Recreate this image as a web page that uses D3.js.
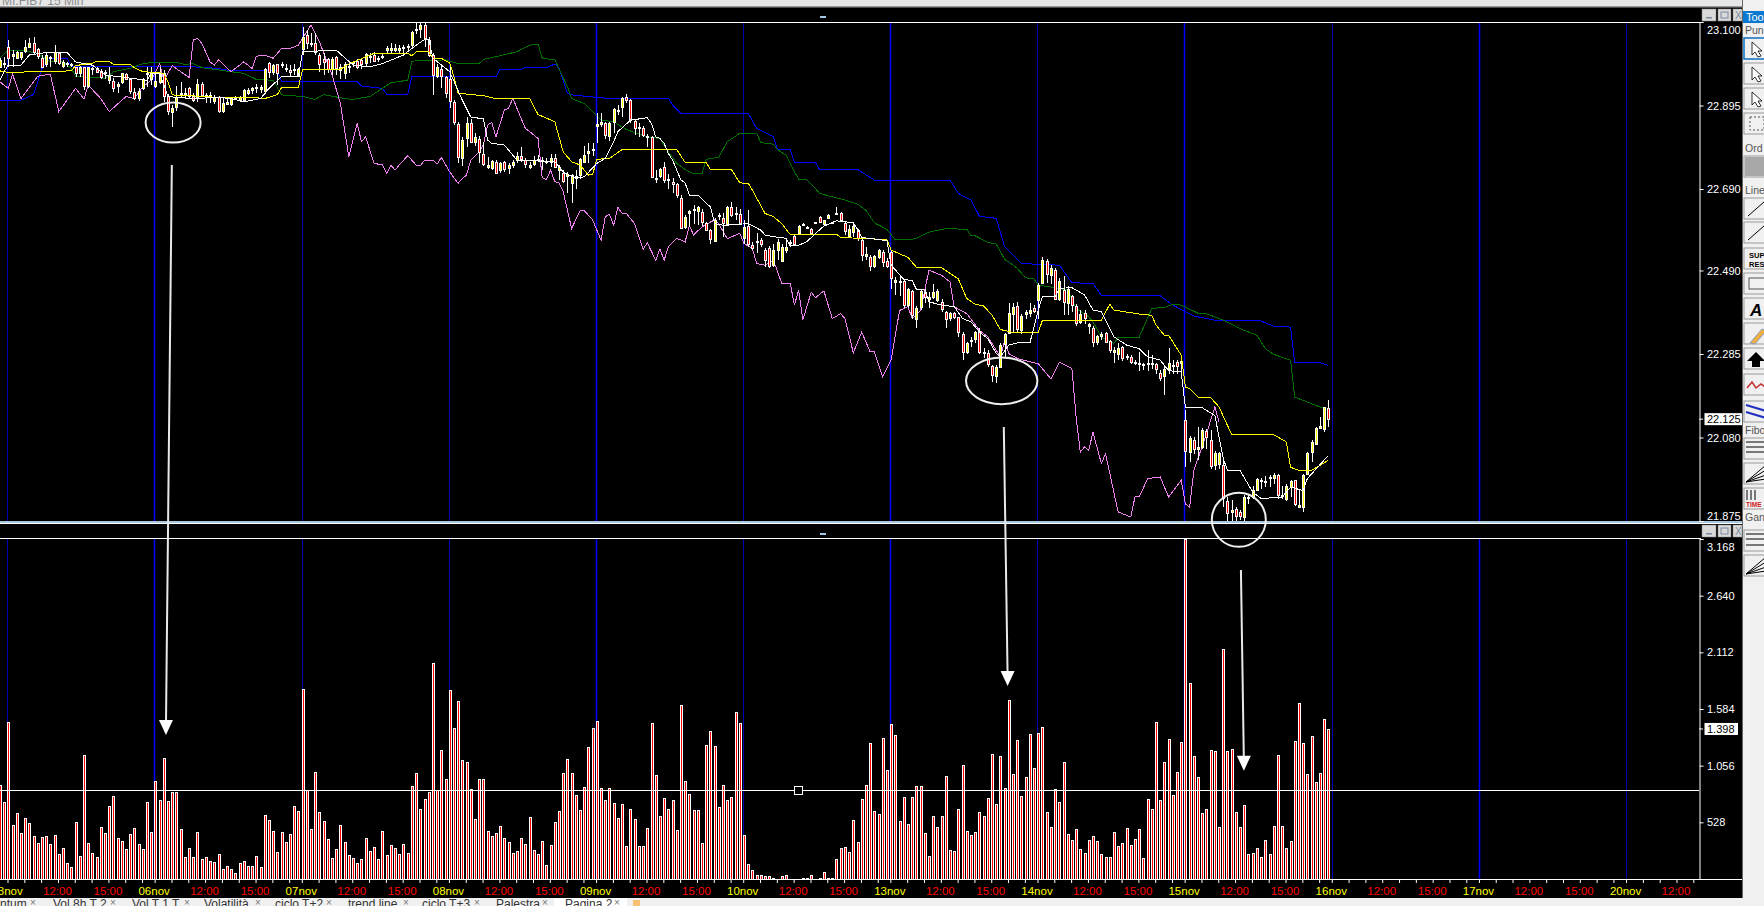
<!DOCTYPE html>
<html><head><meta charset="utf-8">
<script src="https://cdn.jsdelivr.net/npm/d3@7/dist/d3.min.js"></script>
<style>html,body{margin:0;background:#000;overflow:hidden}svg{display:block}text{font-family:"Liberation Sans",Arial,sans-serif}</style>
</head><body><svg id="c" width="1764" height="906"></svg>
<script>
// ---- time axis ----
const barsPerDay = 35, firstDaySlot = 2;
const dayLabels = ["03nov","06nov","07nov","08nov","09nov","10nov","13nov","14nov","15nov","16nov","17nov","20nov"];
const hourLabels = {12:"12:00",24:"15:00"};
const lastSlot = 403, slotsShown = 404;

// ---- axis ticks ----
const priceTicks = [23100,22895,22690,22490,22285,22080,21875];
const volumeTicks = [528,1056,1584,2112,2640,3168];
const lastPrice = 22125, lastVolume = 1398, volumeLevel = 825, levelHandleSlot = 190;

// ---- volume per 15 min bar ----
const volumes = [879,721,1466,506,618,432,571,525,404,339,394,404,329,413,236,292,152,115,534,217,
1159,339,245,208,488,432,683,777,385,357,283,422,478,329,283,721,441,916,
739,1131,730,814,814,469,208,292,208,441,189,208,171,162,236,96,124,96,59,152,
171,124,124,217,115,599,553,450,255,441,348,422,683,637,1773,832,469,1000,627,544,
376,199,283,506,348,227,199,152,189,385,264,301,189,450,227,320,292,236,329,245,
870,991,655,749,814,2012,832,1205,935,1764,1410,1662,1112,1093,842,562,935,935,450,404,
432,497,385,348,245,264,385,329,581,273,236,357,134,320,534,637,991,1121,991,786,
646,860,1233,1410,1475,851,739,851,711,571,702,311,655,562,311,311,478,1457,972,590,
758,655,739,460,1624,916,795,646,646,339,1252,1382,1242,674,879,739,767,1559,1457,413,
143,87,40,40,31,31,12,3,31,40,3,3,3,12,12,40,3,12,68,6,
6,189,292,301,255,553,348,749,879,1270,637,609,1317,1019,1447,1345,544,767,516,767,
870,870,432,217,590,488,590,963,273,264,655,1065,450,413,441,627,590,758,1168,702,
1149,851,1671,981,1298,776,954,1354,1037,1364,1419,627,488,842,721,1093,422,366,469,283,
245,366,404,357,236,208,208,441,311,339,478,320,376,469,199,749,655,1466,739,1093,
1308,786,1000,1280,3168,1829,1149,954,618,655,1205,1196,488,2146,1196,1214,627,488,693,236,
245,292,208,366,236,497,1159,497,292,357,1289,1643,1270,981,1336,907,991,1494,1398];

// ---- candles: open, high, low, close ----
const candles = [[22990,23011,22986,23007],[22997,23015,22986,23000],[23038,23057,22989,23011],[23017,23031,22990,23021],[23013,23030,23011,23027],[23013,23027,23007,23026],[23027,23056,23023,23038],[23038,23060,23035,23048],[23049,23062,23019,23027],[23033,23035,23008,23015],
[23011,23019,22988,22990],[22998,23023,22990,23019],[23012,23017,22990,23014],[23003,23044,22998,23026],[23023,23026,22994,22998],[22994,23007,22986,23003],[22997,23003,22990,23000],[22994,23000,22990,22997],[22989,22990,22966,22974],[22974,22992,22966,22989],
[22989,22990,22933,22943],[22943,22990,22937,22989],[22985,22990,22970,22988],[22986,22990,22974,22976],[22980,22984,22959,22966],[22975,22982,22959,22978],[22956,22990,22949,22967],[22955,22962,22929,22937],[22943,22953,22926,22948],[22951,22976,22949,22974],
[22972,22976,22958,22959],[22959,22962,22923,22929],[22929,22937,22908,22915],[22913,22937,22907,22931],[22937,22962,22933,22959],[22971,22989,22941,22974],[22962,22990,22945,22978],[22943,22978,22937,22955],[22953,22990,22949,22976],[22974,22982,22904,22918],
[22918,22923,22872,22882],[22880,22896,22843,22890],[22890,22943,22882,22915],[22922,22953,22913,22925],[22922,22937,22913,22925],[22937,22941,22913,22918],[22918,22925,22904,22908],[22918,22959,22904,22949],[22949,22953,22917,22923],[22919,22926,22900,22922],
[22915,22929,22900,22921],[22904,22921,22899,22915],[22915,22918,22876,22880],[22880,22917,22876,22900],[22899,22915,22896,22903],[22899,22915,22894,22913],[22911,22918,22908,22914],[22908,22918,22904,22915],[22908,22935,22904,22933],[22926,22937,22921,22933],
[22935,22941,22923,22939],[22937,22948,22925,22940],[22937,22945,22925,22941],[22929,22986,22923,22984],[23000,23003,22962,22978],[22978,22998,22970,22994],[22997,22998,22945,22974],[22993,23003,22986,22996],[22985,22998,22978,22988],[22982,22994,22966,22976],
[22982,22998,22970,22985],[22967,22986,22966,22984],[23033,23087,23019,23062],[23068,23080,23033,23048],[23046,23074,23038,23049],[23048,23072,23019,23025],[23019,23023,22978,22998],[23008,23023,22970,23000],[23008,23011,22974,22984],[22984,23015,22970,23008],
[23013,23017,22970,22986],[22982,22998,22959,22990],[22976,23003,22959,22997],[22989,22998,22974,22992],[23000,23005,22990,23003],[23005,23008,22984,22990],[23007,23008,22984,22998],[23000,23025,22992,23021],[23013,23023,23000,23016],[23019,23027,23003,23005],
[23011,23017,23003,23008],[23013,23023,23008,23016],[23033,23041,23025,23037],[23033,23048,23025,23037],[23033,23046,23027,23037],[23033,23044,23023,23037],[23036,23043,23025,23039],[23038,23046,23030,23041],[23044,23079,23039,23076],[23081,23097,23071,23084],
[23082,23097,23060,23093],[23093,23097,23039,23060],[23057,23062,23015,23019],[23019,23023,22921,22970],[22967,22998,22962,22990],[22984,22994,22937,22966],[22964,22967,22913,22925],[22959,22990,22888,22904],[22904,22908,22847,22855],[22849,22855,22753,22769],
[22765,22817,22746,22810],[22817,22868,22794,22853],[22853,22863,22804,22806],[22806,22828,22795,22818],[22814,22820,22753,22781],[22777,22806,22746,22753],[22744,22768,22738,22748],[22741,22761,22736,22759],[22757,22761,22728,22730],[22735,22757,22730,22753],
[22757,22759,22732,22741],[22741,22754,22728,22749],[22749,22761,22741,22757],[22761,22781,22754,22771],[22771,22794,22757,22763],[22761,22765,22741,22751],[22746,22757,22738,22750],[22751,22771,22746,22761],[22761,22773,22757,22764],[22759,22768,22736,22762],
[22755,22765,22751,22758],[22754,22777,22745,22765],[22767,22777,22743,22745],[22738,22749,22712,22745],[22730,22736,22704,22710],[22722,22732,22679,22726],[22705,22727,22655,22724],[22719,22736,22691,22722],[22724,22765,22714,22763],[22757,22795,22753,22773],
[22777,22802,22753,22783],[22784,22804,22771,22787],[22844,22876,22802,22849],[22849,22876,22843,22854],[22851,22855,22812,22822],[22820,22855,22809,22851],[22853,22890,22828,22886],[22882,22896,22872,22885],[22890,22917,22868,22913],[22915,22923,22900,22908],
[22908,22910,22851,22861],[22858,22859,22822,22841],[22840,22851,22818,22843],[22839,22845,22817,22822],[22817,22825,22794,22820],[22818,22820,22718,22720],[22715,22736,22704,22718],[22720,22741,22716,22738],[22743,22757,22704,22710],[22712,22727,22691,22715],
[22708,22718,22679,22702],[22702,22705,22667,22675],[22669,22675,22591,22596],[22597,22626,22591,22622],[22632,22638,22597,22636],[22637,22650,22605,22640],[22634,22648,22601,22645],[22634,22640,22599,22609],[22607,22609,22587,22591],[22589,22593,22555,22566],
[22564,22618,22560,22615],[22622,22630,22614,22625],[22620,22630,22573,22607],[22601,22648,22599,22646],[22645,22659,22622,22626],[22628,22645,22614,22631],[22628,22642,22601,22607],[22571,22614,22556,22597],[22599,22638,22548,22555],[22552,22560,22540,22544],
[22559,22581,22532,22562],[22564,22569,22548,22555],[22540,22544,22499,22515],[22544,22550,22497,22499],[22503,22556,22499,22540],[22540,22568,22515,22560],[22514,22556,22511,22548],[22540,22568,22532,22548],[22558,22566,22552,22561],[22574,22577,22550,22555],
[22581,22601,22579,22599],[22602,22607,22600,22605],[22595,22600,22591,22597],[22593,22594,22579,22583],[22607,22608,22606,22608],[22622,22624,22607,22610],[22604,22615,22602,22614],[22619,22629,22617,22627],[22608,22610,22607,22609],[22628,22645,22627,22630],
[22632,22634,22612,22614],[22607,22610,22577,22588],[22577,22602,22571,22593],[22585,22606,22573,22599],[22589,22591,22563,22569],[22566,22569,22514,22528],[22526,22548,22516,22530],[22524,22528,22489,22501],[22501,22528,22495,22525],[22522,22542,22517,22540],
[22536,22540,22499,22511],[22514,22520,22495,22501],[22536,22540,22444,22471],[22462,22473,22430,22466],[22461,22473,22427,22464],[22465,22466,22397,22405],[22405,22448,22399,22444],[22440,22442,22370,22380],[22372,22403,22350,22399],[22401,22442,22393,22440],
[22438,22444,22409,22425],[22421,22438,22397,22425],[22425,22458,22421,22438],[22417,22444,22413,22440],[22413,22421,22389,22397],[22389,22391,22348,22372],[22372,22389,22367,22385],[22385,22389,22370,22376],[22375,22376,22327,22337],[22335,22339,22271,22290],
[22290,22315,22285,22312],[22316,22327,22303,22319],[22321,22342,22311,22339],[22342,22348,22286,22290],[22286,22299,22274,22289],[22288,22294,22253,22262],[22255,22258,22217,22233],[22231,22258,22214,22253],[22255,22311,22253,22308],[22311,22337,22278,22335],
[22337,22409,22335,22385],[22385,22409,22339,22401],[22404,22413,22339,22348],[22345,22383,22335,22379],[22383,22393,22370,22387],[22386,22409,22376,22394],[22399,22405,22385,22391],[22417,22460,22372,22454],[22460,22522,22458,22516],[22514,22517,22460,22481],
[22479,22503,22458,22495],[22491,22495,22419,22421],[22421,22471,22416,22465],[22442,22476,22380,22413],[22409,22452,22380,22444],[22427,22430,22389,22405],[22404,22407,22353,22362],[22364,22393,22358,22383],[22385,22393,22358,22372],[22354,22362,22334,22358],
[22350,22353,22303,22315],[22315,22331,22307,22329],[22327,22339,22319,22333],[22337,22339,22311,22315],[22317,22319,22288,22294],[22292,22301,22263,22296],[22285,22312,22271,22299],[22303,22304,22268,22276],[22278,22286,22270,22281],[22278,22282,22260,22266],
[22262,22270,22258,22265],[22259,22290,22244,22262],[22258,22263,22245,22261],[22259,22294,22244,22262],[22260,22282,22247,22263],[22260,22263,22237,22247],[22239,22245,22219,22227],[22233,22255,22184,22249],[22249,22299,22237,22263],[22255,22270,22235,22258],
[22266,22271,22237,22255],[22262,22271,22237,22268],[22124,22147,22007,22048],[22044,22083,22020,22079],[22075,22081,22040,22052],[22052,22106,22024,22057],[22057,22104,22052,22098],[22096,22102,22052,22081],[22075,22098,22003,22012],[22012,22048,21999,22042],
[22016,22044,22003,22042],[22012,22028,21909,21930],[21924,21934,21876,21894],[21899,21926,21875,21903],[21905,21909,21876,21889],[21897,21903,21878,21886],[21886,21938,21876,21934],[21932,21942,21917,21935],[21934,21962,21930,21950],[21952,21981,21950,21979],
[21973,21981,21954,21976],[21969,21985,21958,21972],[21979,21989,21958,21982],[21979,21993,21966,21987],[21987,21991,21930,21938],[21936,21962,21930,21939],[21930,21966,21924,21962],[21958,21975,21934,21973],[21975,21976,21911,21917],[21911,21954,21908,21915],
[21909,21991,21897,21987],[21991,22044,21987,22042],[22044,22073,22020,22069],[22065,22106,22061,22104],[22105,22130,22102,22109],[22102,22156,22093,22155],[22153,22173,22106,22126]];

// ---- indicator lines: [bar, price] ----
const pinkLine = [[0,22953],[2,22937],[3,22972],[5,22912],[9,22967],[12,22972],[14,22880],[18,22937],[20,22911],[21,22945],[24,22912],[26,22880],[30,22917],[32,22912],[34,22941],[36,22957],[38,22997],[39,22957],[41,22993],[43,22978],[45,22964],[46,23056],[47,23060],[48,23048],[50,23002],[51,22994],[52,23007],[55,22978],[58,23002],[60,22986],[61,23016],[63,23019],[65,23011],[67,23035],[69,23035],[71,23043],[74,23093],[76,23052],[79,22970],[81,22900],[83,22769],[85,22851],[86,22806],[87,22818],[89,22753],[91,22749],[92,22728],[93,22749],[94,22736],
[95,22749],[97,22772],[99,22749],[100,22747],[101,22761],[103,22761],[104,22751],[105,22768],[107,22732],[109,22704],[110,22716],[111,22724],[112,22761],[114,22781],[115,22798],[116,22847],[117,22853],[118,22818],[120,22884],[121,22888],[122,22913],[124,22863],[125,22839],[126,22831],[128,22814],[129,22718],[130,22713],[131,22736],[132,22708],[133,22705],[134,22683],[136,22593],[138,22637],[139,22637],[141,22614],[143,22564],[144,22622],[145,22628],[146,22601],[147,22645],[148,22630],[149,22630],[151,22605],[152,22573],[153,22542],[154,22558],[156,22515],[157,22543],[158,22515],[159,22548],[161,22569],[163,22560],[164,22601],[165,22577],[167,22597],[169,22609],[170,22614],
[171,22605],[173,22568],[176,22581],[177,22556],[179,22544],[180,22507],[182,22503],[184,22515],[186,22458],[188,22458],[189,22405],[190,22442],[191,22369],[193,22437],[194,22423],[196,22440],[198,22372],[200,22384],[201,22372],[203,22288],[205,22339],[207,22290],[208,22290],[210,22229],[212,22270],[214,22392],[216,22401],[217,22372],[219,22392],[221,22491],[224,22478],[226,22462],[227,22401],[230,22384],[233,22343],[235,22327],[238,22278],[239,22319],[240,22286],[242,22274],[247,22261],[250,22224],[252,22265],[255,22249],[256,22130],[257,22044],[258,22057],[259,22048],[260,22093],[262,22016],[263,22040],[266,21897],[269,21885],[270,21934],[271,21934],[273,21979],[276,21983],[278,21934],[281,21975],[282,21917],[283,21909],[284,21999],[287,22089],[289,22155],[290,22118]];

const whiteLine = [[0,22957],[1,22978],[2,22994],[5,22994],[7,23019],[11,23025],[16,23025],[18,23002],[22,22994],[25,22970],[31,22962],[35,22957],[36,22974],[38,22974],[40,22917],[42,22915],[46,22912],[52,22915],[55,22912],[58,22904],[62,22912],[64,22937],[67,22966],[71,22966],[72,23027],[80,23031],[84,22994],[88,22990],[91,22998],[96,23019],[99,23043],[101,23057],[102,23057],[103,23011],[107,22978],[110,22908],[112,22867],[115,22862],[116,22810],[117,22802],[120,22798],[122,22773],[123,22761],[132,22757],[134,22732],[137,22716],[139,22720],[142,22753],[144,22765],[146,22806],[147,22831],[150,22859],[154,22865],[155,22851],[156,22818],[157,22814],[158,22802],[159,22777],[160,22761],[162,22712],[163,22705],[164,22675],[166,22675],[169,22646],[170,22605],[172,22601],[178,22605],[181,22589],[182,22577],[184,22573],[187,22569],[188,22550],[190,22552],[192,22561],[194,22581],[196,22599],[199,22612],[203,22607],[204,22591],[205,22571],[209,22566],[211,22563],[212,22503],[215,22468],[217,22465],[218,22444],[220,22442],[221,22413],[224,22405],[227,22401],[229,22372],[231,22364],[233,22339],[235,22323],[237,22286],[238,22278],[240,22307],[242,22312],[245,22312],[247,22393],[248,22427],[251,22425],[252,22446],[255,22448],[258,22430],[260,22393],[262,22389],[265,22327],[268,22307],[271,22298],[273,22278],[276,22270],[278,22244],[281,22241],[282,22153],[286,22153],[289,22134],[291,22028],[292,21999],[295,21999],[298,21946],[300,21930],[305,21934],[307,21958],[310,21950],[311,21979],[316,22036]];

const yellowLine = [[0,22980],[2,22976],[8,22978],[17,22980],[18,22993],[22,22999],[23,23003],[26,23003],[27,22996],[31,22996],[32,22988],[34,22978],[37,22976],[39,22974],[40,22953],[41,22921],[47,22918],[52,22915],[61,22914],[63,22912],[66,22922],[67,22939],[71,22939],[72,22984],[81,22984],[83,22997],[89,23023],[97,23023],[98,23017],[99,23027],[102,23027],[103,23011],[105,23011],[107,22999],[108,22966],[109,22925],[115,22919],[118,22912],[126,22912],[128,22873],[132,22855],[134,22781],[136,22757],[138,22749],[140,22724],[141,22726],[142,22763],[145,22765],[148,22787],[161,22787],[163,22755],[168,22755],[169,22738],[174,22738],[176,22705],[178,22704],[179,22687],[182,22630],[184,22622],[186,22605],[188,22578],[199,22579],[200,22571],[211,22566],[212,22540],[216,22522],[218,22498],[224,22497],[228,22469],[230,22421],[232,22407],[234,22403],[236,22380],[238,22345],[241,22338],[247,22338],[248,22368],[262,22368],[264,22407],[265,22393],[271,22383],[274,22380],[275,22356],[277,22331],[278,22331],[281,22282],[282,22204],[283,22200],[285,22179],[288,22178],[290,22155],[293,22087],[303,22087],[306,22069],[307,22007],[309,21999],[312,21999],[316,22024]];

const greenLine = [[0,23011],[2,23031],[5,23031],[9,23023],[12,23002],[15,23002],[17,22986],[18,22967],[21,22964],[25,22962],[27,22978],[31,22986],[34,22998],[37,23001],[42,23001],[44,22996],[46,22998],[48,22988],[55,22978],[58,22974],[61,22959],[65,22957],[67,22921],[72,22917],[75,22910],[77,22922],[82,22912],[84,22910],[88,22917],[91,22937],[93,22951],[97,22957],[98,23004],[106,23007],[109,22998],[114,22998],[115,23008],[118,23015],[123,23027],[126,23043],[128,23046],[129,23011],[132,23007],[135,22941],[136,22912],[139,22900],[143,22859],[146,22855],[149,22836],[154,22818],[157,22814],[159,22781],[161,22753],[163,22738],[165,22727],[167,22727],[168,22763],[171,22768],[173,22806],[176,22827],[180,22827],[181,22804],[184,22800],[185,22786],[187,22773],[189,22732],[190,22714],[192,22712],[194,22691],[195,22679],[201,22663],[204,22653],[206,22638],[208,22607],[211,22591],[213,22565],[216,22565],[218,22569],[221,22584],[225,22593],[230,22591],[231,22575],[232,22575],[235,22559],[237,22555],[239,22517],[240,22511],[242,22495],[244,22472],[246,22469],[247,22454],[251,22448],[254,22442],[256,22397],[259,22376],[260,22364],[262,22326],[265,22311],[266,22326],[271,22326],[274,22397],[277,22399],[279,22407],[281,22405],[285,22385],[287,22384],[291,22368],[295,22347],[299,22331],[301,22298],[303,22284],[307,22270],[308,22179],[312,22163],[316,22147]];

const blueLine = [[0,22908],[5,22908],[8,22922],[10,22986],[12,23011],[16,23011],[17,22990],[31,22990],[46,22990],[52,22986],[55,22980],[66,22980],[67,22955],[85,22953],[86,22943],[91,22937],[92,22923],[97,22922],[98,22966],[118,22966],[119,22984],[124,22984],[125,22988],[130,22988],[132,22997],[133,22986],[135,22925],[136,22921],[144,22913],[159,22913],[160,22896],[162,22876],[178,22876],[180,22839],[184,22818],[185,22787],[188,22786],[189,22755],[194,22755],[195,22738],[204,22738],[208,22712],[226,22712],[228,22679],[231,22663],[233,22623],[237,22618],[239,22548],[243,22507],[252,22503],[255,22460],[260,22458],[262,22429],[276,22428],[279,22405],[284,22378],[290,22366],[300,22366],[303,22353],[307,22351],[308,22264],[314,22264],[316,22257]];

// ---- annotations drawn on top, anchored to the chart's own scales ----
const circleNotes = [{slot:41.2,price:22853,rx:27.5,ry:20},{slot:238.3,price:22219,rx:35.7,ry:23.3},{slot:294.7,price:21878,rx:27,ry:27}];
const arrowNotes = [
 {fromSlot:40.9,fromPrice:22749,toSlot:39.5,toVolume:1342},
 {fromSlot:238.8,fromPrice:22106,toSlot:239.7,toVolume:1799},
 {fromSlot:295.2,fromVolume:2880,toSlot:295.9,toVolume:1009}];

const tabs = [{t:"ntum",x:0,c:33},{t:"Vol 8h T 2",x:53,c:113},{t:"Vol T 1 T",x:132,c:187},{t:"Volatilità",x:204,c:258},{t:"ciclo T+2",x:275,c:329},{t:"trend line",x:348,c:406},{t:"ciclo T+3",x:422,c:477},{t:"Palestra",x:496,c:545},{t:"Pagina 2",x:565,c:617}];

// ---- layout ----
const W=1764, plotR=1699, topY0=22, topY1=521, volY0=539, volY1=879, toolX=1742;
const svg=d3.select("#c");
const x=d3.scaleLinear().domain([0,barsPerDay]).range([-0.1,147.04]);
const yP=d3.scaleLinear().domain([21875,23100]).range([topY1,topY0]);
const yV=d3.scaleLinear().domain([0,3168]).range([volY1,volY0]);
const it=d3.formatLocale({decimal:",",thousands:".",grouping:[3],currency:["","€"]}).format(",d");
const snapX=i=>Math.round(x(i));
const snapY=v=>Math.round(v)+.5;

svg.append("rect").attr("width",W).attr("height",906).attr("fill","#000");
const defs=svg.append("defs");
defs.append("clipPath").attr("id","cpT").append("rect").attr("x",0).attr("y",topY0).attr("width",plotR).attr("height",topY1-topY0);
defs.append("clipPath").attr("id","cpV").append("rect").attr("x",0).attr("y",volY0).attr("width",plotR).attr("height",volY1-volY0);

// window chrome, top
svg.append("rect").attr("width",W).attr("height",6).attr("fill","#e6e6e6");
svg.append("rect").attr("y",6).attr("width",toolX).attr("height",1.5).attr("fill","#9a9a9a");
svg.append("text").attr("x",2).attr("y",5).attr("font-size",12).attr("fill","#8c8c8c").text("MI.FIB7 15 Min");

// day separators
const days=dayLabels.map((d,k)=>({label:d,slot:firstDaySlot+k*barsPerDay,k}));
const strong=new Set([1,4,6,8,10]);
[[topY0,topY1],[volY0,volY1]].forEach(([a,b])=>{
 svg.append("g").selectAll("line").data(days).join("line")
  .attr("x1",d=>snapX(d.slot)-.5).attr("x2",d=>snapX(d.slot)-.5).attr("y1",a).attr("y2",b)
  .attr("stroke",d=>strong.has(d.k)?"#0000ff":"#0000b4").attr("stroke-width",d=>strong.has(d.k)?1.5:1);
});

// price pane
const gT=svg.append("g").attr("clip-path","url(#cpT)");
const lineGen=d3.line().x(d=>x(d[0])).y(d=>yP(d[1]));
[[blueLine,"#0000ff"],[greenLine,"#007000"],[pinkLine,"#ee82ee"]].forEach(([s,c])=>
 gT.append("path").datum(s).attr("d",lineGen).attr("fill","none").attr("stroke",c).attr("stroke-width",1).attr("shape-rendering","crispEdges"));
const cg=gT.append("g").attr("shape-rendering","crispEdges").selectAll("g").data(candles).join("g");
cg.append("line").attr("x1",(d,i)=>snapX(i)+.5).attr("x2",(d,i)=>snapX(i)+.5).attr("y1",d=>yP(d[1])).attr("y2",d=>yP(d[2])).attr("stroke","#fff").attr("stroke-width",1);
cg.append("rect").attr("x",(d,i)=>snapX(i)-.5).attr("width",2)
 .attr("y",d=>snapY(yP(Math.max(d[0],d[3])))).attr("height",d=>Math.max(1,Math.round(Math.abs(yP(d[0])-yP(d[3])))))
 .attr("fill",d=>d[3]>=d[0]?"#ffff00":"#ff0000").attr("stroke","#fff").attr("stroke-width",1);
[[yellowLine,"#ffff00"],[whiteLine,"#ffffff"]].forEach(([s,c])=>
 gT.append("path").datum(s).attr("d",lineGen).attr("fill","none").attr("stroke",c).attr("stroke-width",1).attr("shape-rendering","crispEdges"));

// volume pane
const gV=svg.append("g").attr("clip-path","url(#cpV)").attr("shape-rendering","crispEdges");
gV.selectAll("rect").data(volumes).join("rect")
 .attr("x",(d,i)=>snapX(i)-.5).attr("width",2).attr("y",d=>snapY(yV(d))).attr("height",d=>Math.max(0,Math.round(yV(0)-yV(d))))
 .attr("fill","#ff0000").attr("stroke","#fff").attr("stroke-width",1);
svg.append("line").attr("x1",0).attr("x2",plotR).attr("y1",snapY(yV(volumeLevel))).attr("y2",snapY(yV(volumeLevel))).attr("stroke","#fff").attr("stroke-width",1);
svg.append("rect").attr("x",snapX(levelHandleSlot)-4.5).attr("y",snapY(yV(volumeLevel))-4).attr("width",8).attr("height",8).attr("fill","#000").attr("stroke","#fff").attr("stroke-width",1);

// pane frames
svg.append("line").attr("x1",0).attr("x2",1701).attr("y1",22.5).attr("y2",22.5).attr("stroke","#fff");
svg.append("rect").attr("y",521).attr("width",toolX).attr("height",2).attr("fill","#a9c6df");
svg.append("line").attr("x1",0).attr("x2",toolX).attr("y1",523.5).attr("y2",523.5).attr("stroke","#fff");
svg.append("line").attr("x1",0).attr("x2",1701).attr("y1",538.5).attr("y2",538.5).attr("stroke","#fff");
[17,534].forEach(y=>svg.append("rect").attr("x",820).attr("y",y-1).attr("width",6).attr("height",2).attr("fill","#9fc8e8"));
[9,525].forEach(y=>{
 [[1702,14],[1718,13],[1733,9]].forEach(([bx,bw])=>svg.append("rect").attr("x",bx).attr("y",y).attr("width",bw).attr("height",12).attr("fill","#d9d9d9").attr("stroke","#8a8a8a").attr("stroke-width",.5));
 svg.append("rect").attr("x",1706).attr("y",y+8).attr("width",6).attr("height",1.5).attr("fill","#7a8aa0");
 svg.append("rect").attr("x",1721).attr("y",y+3).attr("width",7).attr("height",6).attr("fill","none").attr("stroke","#7a8aa0");
 svg.append("text").attr("x",1735).attr("y",y+10).attr("font-size",10).attr("fill","#7a8aa0").text("X");
});

// y axes
function rightAxis(scale,ticks){
 const g=svg.append("g").attr("transform",`translate(${plotR+.5},0)`)
  .call(d3.axisRight(scale).tickValues(ticks).tickFormat(it).tickSize(4).tickPadding(3.5));
 g.select(".domain").attr("stroke","#fff");
 g.selectAll(".tick line").attr("stroke","#fff");
 g.selectAll("text").attr("fill","#fff").attr("font-size",11).attr("font-family","Liberation Sans");
 return g;
}
const aP=rightAxis(yP,priceTicks);
aP.selectAll(".tick text").filter(d=>d===23100).attr("dy","1.05em");
aP.selectAll(".tick text").filter(d=>d===21875).attr("dy","-0.13em");
const aV=rightAxis(yV,volumeTicks);
aV.selectAll(".tick text").filter(d=>d===3168).attr("dy","1.05em");

// last value tags
[[yP(lastPrice),it(lastPrice)],[yV(lastVolume),it(lastVolume)]].forEach(([y,t],k)=>{
 svg.append("line").attr("x1",plotR).attr("x2",plotR+4).attr("y1",y).attr("y2",y).attr("stroke","#fff");
 svg.append("rect").attr("x",1704.5).attr("y",y-6).attr("width",k?33.5:37.5).attr("height",12).attr("fill","#fff");
 svg.append("text").attr("x",1707).attr("y",y+4).attr("font-size",11).attr("fill","#000").text(t);
});

// time axis
const slots=d3.range(firstDaySlot,lastSlot+1).filter(s=>(s-firstDaySlot)%barsPerDay%4===0 && (s-firstDaySlot)%barsPerDay<=32);
function slotLabel(s){const r=(s-firstDaySlot)%barsPerDay,k=(s-firstDaySlot-r)/barsPerDay;
 return r===0?dayLabels[k]:(hourLabels[r]||"");}
const aX=svg.append("g").attr("transform",`translate(-0.8,${volY1})`)
 .call(d3.axisBottom(x).tickValues(slots).tickFormat(slotLabel).tickSize(4).tickPadding(3.5).tickSizeOuter(0));
aX.select(".domain").remove();
aX.selectAll(".tick line").attr("stroke","#fff");
aX.selectAll("text").attr("font-size",11.5).attr("font-family","Liberation Sans").attr("dx",-1)
 .attr("fill",s=>(s-firstDaySlot)%barsPerDay===0?"#ffff00":"#ff0000");
svg.append("line").attr("x1",0).attr("x2",toolX).attr("y1",volY1+.5).attr("y2",volY1+.5).attr("stroke","#fff");

// annotations
svg.append("g").selectAll("ellipse").data(circleNotes).join("ellipse")
 .attr("cx",d=>x(d.slot)).attr("cy",d=>yP(d.price)).attr("rx",d=>d.rx).attr("ry",d=>d.ry)
 .attr("fill","none").attr("stroke","#eeeeee").attr("stroke-width",2);
arrowNotes.forEach(a=>{
 const x0=x(a.fromSlot),y0=a.fromPrice!==undefined?yP(a.fromPrice):yV(a.fromVolume),x1=x(a.toSlot),y1=yV(a.toVolume);
 svg.append("line").attr("x1",x0).attr("y1",y0).attr("x2",x1).attr("y2",y1-10).attr("stroke","#e8e8e8").attr("stroke-width",2);
 svg.append("path").attr("d",`M${x1-7},${y1-15}L${x1+7},${y1-15}L${x1},${y1}Z`).attr("fill","#fff");
});

// bottom tabs
svg.append("rect").attr("y",898).attr("width",W).attr("height",8).attr("fill","#f0f0f0");
svg.append("rect").attr("x",554).attr("y",898).attr("width",73).attr("height",8).attr("fill","#fff");
tabs.forEach(tb=>{
 svg.append("text").attr("x",tb.x).attr("y",908).attr("font-size",12).attr("fill","#333").text(tb.t);
 svg.append("text").attr("x",tb.c).attr("y",906).attr("font-size",10).attr("fill","#777").attr("text-anchor","middle").text("×");
});
svg.append("rect").attr("x",633).attr("y",900).attr("width",7).attr("height",6).attr("fill","#f5c070");

// right toolbox
svg.append("rect").attr("x",toolX).attr("y",0).attr("width",W-toolX).attr("height",906).attr("fill","#f0f0f0");
svg.append("line").attr("x1",toolX+.5).attr("x2",toolX+.5).attr("y1",0).attr("y2",898).attr("stroke","#666");
svg.append("rect").attr("x",toolX+1).attr("y",11).attr("width",W-toolX).attr("height",12).attr("fill","#0a78d0");
svg.append("text").attr("x",toolX+4).attr("y",21).attr("font-size",11).attr("fill","#fff").text("Tool");
[["Pun",34],["Ord",152],["Line",194],["Fibo",434],["Gan",521]].forEach(([t,y])=>
 svg.append("text").attr("x",toolX+3).attr("y",y).attr("font-size",10.5).attr("fill","#555").text(t));
[38,63,88,113,156,198,222,248,273,298,323,348,374,401,438,463,488,530,555].forEach(y=>{
 svg.append("rect").attr("x",toolX+2).attr("y",y).attr("width",24).attr("height",21).attr("fill","#f0f0f0").attr("stroke",y===38?"#1070c0":"#999").attr("stroke-width",y===38?1.5:1);
});
[38,63,88].forEach(y=>svg.append("path").attr("d",`M${toolX+10},${y+4}l0,13l3,-3l3,5l3,-1l-3,-5l4,0z`).attr("fill","#fff").attr("stroke","#000").attr("stroke-width",.8));
svg.append("rect").attr("x",toolX+8).attr("y",117).attr("width",14).attr("height",13).attr("fill","none").attr("stroke","#555").attr("stroke-dasharray","2,2");
svg.append("rect").attr("x",toolX+3).attr("y",157).attr("width",22).attr("height",19).attr("fill","#a8a8a8");
[[198],[222]].forEach(([y])=>svg.append("line").attr("x1",toolX+6).attr("y1",y+18).attr("x2",W).attr("y2",y+4).attr("stroke","#000"));
svg.append("text").attr("x",toolX+7).attr("y",258).attr("font-size",7.5).attr("font-weight","bold").attr("fill","#000").text("SUP");
svg.append("text").attr("x",toolX+7).attr("y",267).attr("font-size",7.5).attr("font-weight","bold").attr("fill","#000").text("RES");
svg.append("rect").attr("x",toolX+7).attr("y",278).attr("width",17).attr("height",11).attr("fill","none").attr("stroke","#555");
svg.append("text").attr("x",toolX+8).attr("y",316).attr("font-size",17).attr("font-weight","bold").attr("font-style","italic").attr("fill","#000").text("A");
svg.append("path").attr("d",`M${toolX+8},343l12,-14l4,2l-11,13z`).attr("fill","#f0b040").attr("stroke","#8898c8");
svg.append("path").attr("d",`M${toolX+14},352l9,9l-5,0l0,6l-8,0l0,-6l-5,0z`).attr("fill","#000");
svg.append("path").attr("d",`M${toolX+5},388l5,-6l4,6l5,-4l4,3`).attr("fill","none").attr("stroke","#c03030").attr("stroke-width",1.5);
svg.append("path").attr("d",`M${toolX+4},405l20,6M${toolX+4},412l20,6`).attr("fill","none").attr("stroke","#2030c0").attr("stroke-width",2);
[441,446,451,533,538,544].forEach(y=>svg.append("line").attr("x1",toolX+4).attr("x2",W).attr("y1",y+1).attr("y2",y+1).attr("stroke","#000"));
[463,555].forEach(y=>{[4,9,14,18].forEach(d=>svg.append("line").attr("x1",toolX+4).attr("y1",y+19).attr("x2",toolX+24).attr("y2",y+d-2).attr("stroke","#000"));});
[5,9,13].forEach(d=>svg.append("line").attr("x1",toolX+d).attr("x2",toolX+d).attr("y1",490).attr("y2",500).attr("stroke","#000"));
svg.append("text").attr("x",toolX+4).attr("y",507).attr("font-size",6.5).attr("font-weight","bold").attr("fill","#d02020").text("TIME");
</script></body></html>
